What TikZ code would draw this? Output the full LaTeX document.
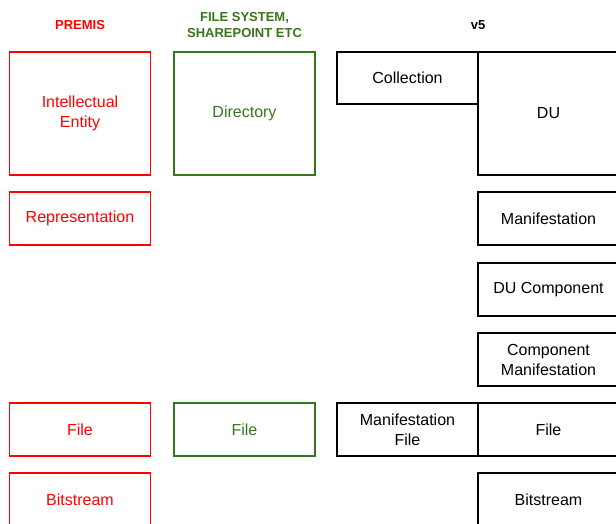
\documentclass[tikz,border=0pt]{standalone}
\usepackage{fontspec}
\setmainfont{Liberation Sans}
\usetikzlibrary{positioning}
\definecolor{premisred}{HTML}{FF0000}
\definecolor{fsgreen}{HTML}{38761D}
\tikzset{
	box/.style={draw, line width=1.6pt, outer sep=0pt, inner sep=0pt, minimum width=141pt, minimum height=53pt, align=center, font=\fontsize{16}{20}\selectfont},
	premis/.style={box, draw=premisred, text=premisred},
	fs/.style={box, draw=fsgreen, text=fsgreen},
	vfive/.style={box, draw=black},
	tall/.style={minimum height=123pt},
	header/.style={font=\fontsize{13}{16}\selectfont\bfseries, align=center},
}

\begin{document}
\begin{tikzpicture}[x=1pt, y=1pt]
		\useasboundingbox (0,0) rectangle (616,-523);
		\clip (0,0) rectangle (616,-523);

		\node [header, text=premisred] (hpremis) at (80,-25) {PREMIS};
		\node [header, text=fsgreen] (hfs) at (244.5,-25) {FILE SYSTEM,\\SHAREPOINT ETC};
		\node [header] (hvfive) at (478,-25) {v5};

		\node [premis, tall] (ie) at (80,-113.5) {Intellectual\\Entity};
		\node [premis, below = 17pt of ie] (rep) {Representation};
		\node [premis, below = 158pt of rep] (pfile) {File};
		\node [premis, below = 17pt of pfile] (pbit) {Bitstream};

		\node [fs, tall] (dir) at (244.5,-113.5) {Directory};
		\node [fs, below = 228pt of dir] (fsfile) {File};

		\node [vfive, minimum height=52pt] (coll) at (407.5,-78) {Collection};
		\node [vfive, tall] (du) at (548.5,-113.5) {DU};
		\node [vfive, below = 17pt of du] (man) {Manifestation};
		\node [vfive, below = 18pt of man] (ducomp) {DU Component};
		\node [vfive, below = 17pt of ducomp] (compman) {Component\\Manifestation};
		\node [vfive, below = 17pt of compman] (vfile) {File};
		\node [vfive, left = 0pt of vfile] (mfile) {Manifestation\\File};
		\node [vfive, below = 17pt of vfile] (vbit) {Bitstream};
\end{tikzpicture}
\end{document}
